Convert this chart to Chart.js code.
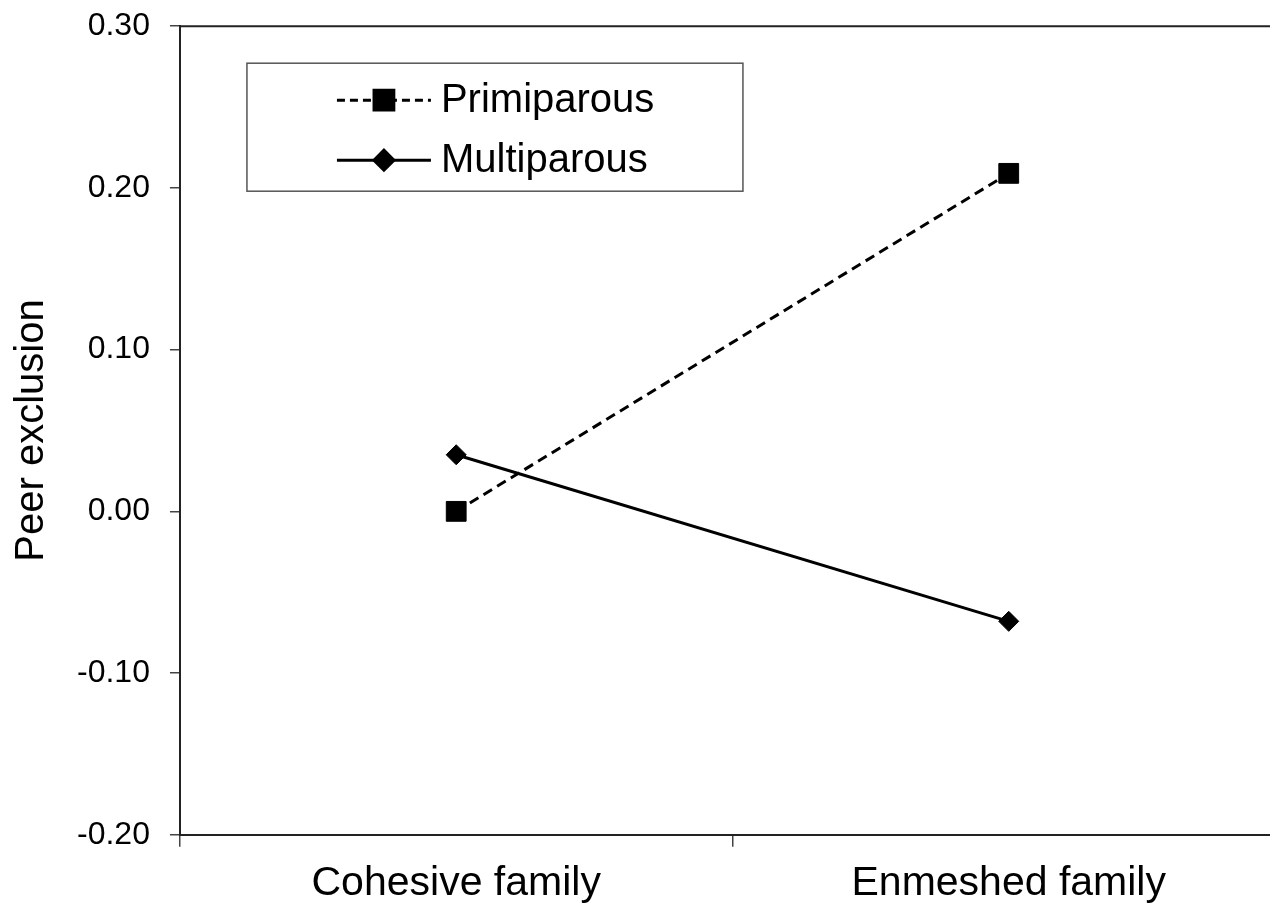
<!DOCTYPE html>
<html lang="en">
<head>
    <meta charset="UTF-8">
    <title>Peer exclusion</title>
    <style>
        body {
            margin: 0;
            background: #ffffff;
            overflow: hidden;
        }
        #chart-container {
            width: 1300px;
            height: 921px;
            margin-top: -13px;
        }
    </style>
</head>
<body>
    <div id="chart-container">
        <canvas id="peerChart"></canvas>
    </div>
    <script src="https://cdn.jsdelivr.net/npm/chart.js@4.4.1/dist/chart.umd.min.js"></script>
    <script>
        const categories = ['Cohesive family', 'Enmeshed family'];
        const primiparous = [0.00, 0.209];
        const multiparous = [0.035, -0.068];
        const yTicks = [-0.20, -0.10, 0.00, 0.10, 0.20, 0.30];

        const FONT = "'Liberation Sans', Arial, sans-serif";

        // top border of the plot + legend box in upper left
        const framePlugin = {
            id: 'frame',
            afterDraw(chart) {
                const ctx = chart.ctx;
                const a = chart.chartArea;
                ctx.save();
                ctx.strokeStyle = '#222';
                ctx.lineWidth = 2;
                ctx.beginPath();
                ctx.moveTo(a.left, a.top);
                ctx.lineTo(a.right, a.top);
                ctx.stroke();

                // legend
                const bx = a.left + 67, by = a.top + 37, bw = 496, bh = 128;
                ctx.strokeStyle = '#555';
                ctx.lineWidth = 1.5;
                ctx.strokeRect(bx, by, bw, bh);

                const rows = [
                    { ds: chart.data.datasets[0], y: by + 37 },
                    { ds: chart.data.datasets[1], y: by + 97 }
                ];
                rows.forEach(r => {
                    ctx.strokeStyle = '#000';
                    ctx.lineWidth = 3;
                    ctx.setLineDash(r.ds.borderDash && r.ds.borderDash.length ? [8, 5] : []);
                    ctx.beginPath();
                    ctx.moveTo(bx + 90, r.y);
                    ctx.lineTo(bx + 184, r.y);
                    ctx.stroke();
                    ctx.setLineDash([]);
                    ctx.fillStyle = '#000';
                    Chart.helpers.drawPoint(ctx, {
                        pointStyle: r.ds.pointStyle,
                        radius: r.ds.pointRadius,
                        borderWidth: 1
                    }, bx + 137, r.y);
                    ctx.fillStyle = '#000';
                    ctx.font = '40px ' + FONT;
                    ctx.textBaseline = 'middle';
                    ctx.textAlign = 'left';
                    ctx.fillText(r.ds.label, bx + 194, r.y + 1);
                });
                ctx.restore();
            }
        };

        new Chart(document.getElementById('peerChart'), {
            type: 'line',
            data: {
                labels: categories,
                datasets: [
                    {
                        label: 'Primiparous',
                        data: primiparous,
                        borderColor: '#000',
                        backgroundColor: '#000',
                        borderWidth: 3,
                        borderDash: [10, 6],
                        pointStyle: 'rect',
                        pointRadius: 14,
                        pointBorderWidth: 1
                    },
                    {
                        label: 'Multiparous',
                        data: multiparous,
                        borderColor: '#000',
                        backgroundColor: '#000',
                        borderWidth: 3,
                        pointStyle: 'rectRot',
                        pointRadius: 10,
                        pointBorderWidth: 1
                    }
                ]
            },
            options: {
                responsive: true,
                maintainAspectRatio: false,
                animation: false,
                layout: {
                    padding: { left: 8, right: 13, top: 0, bottom: -12 }
                },
                plugins: {
                    legend: { display: false },
                    tooltip: { enabled: false }
                },
                scales: {
                    x: {
                        offset: true,
                        grid: {
                            offset: true,
                            drawOnChartArea: false,
                            drawTicks: true,
                            tickLength: 12,
                            color: '#444',
                            lineWidth: 1.5
                        },
                        border: { color: '#222', width: 2 },
                        ticks: {
                            color: '#000',
                            padding: 12,
                            font: { family: FONT, size: 41 }
                        }
                    },
                    y: {
                        min: -0.2,
                        max: 0.3,
                        afterBuildTicks(axis) {
                            axis.ticks = yTicks.map(v => ({ value: v }));
                        },
                        grid: {
                            drawOnChartArea: false,
                            drawTicks: true,
                            tickLength: 10,
                            color: '#444',
                            lineWidth: 1.5
                        },
                        border: { color: '#222', width: 2 },
                        ticks: {
                            color: '#000',
                            padding: 20,
                            font: { family: FONT, size: 32 },
                            callback: v => v.toFixed(2)
                        },
                        title: {
                            display: true,
                            text: 'Peer exclusion',
                            color: '#000',
                            font: { family: FONT, size: 40 },
                            padding: { top: 0, bottom: 1 }
                        }
                    }
                }
            },
            plugins: [framePlugin]
        });
    </script>
</body>
</html>
